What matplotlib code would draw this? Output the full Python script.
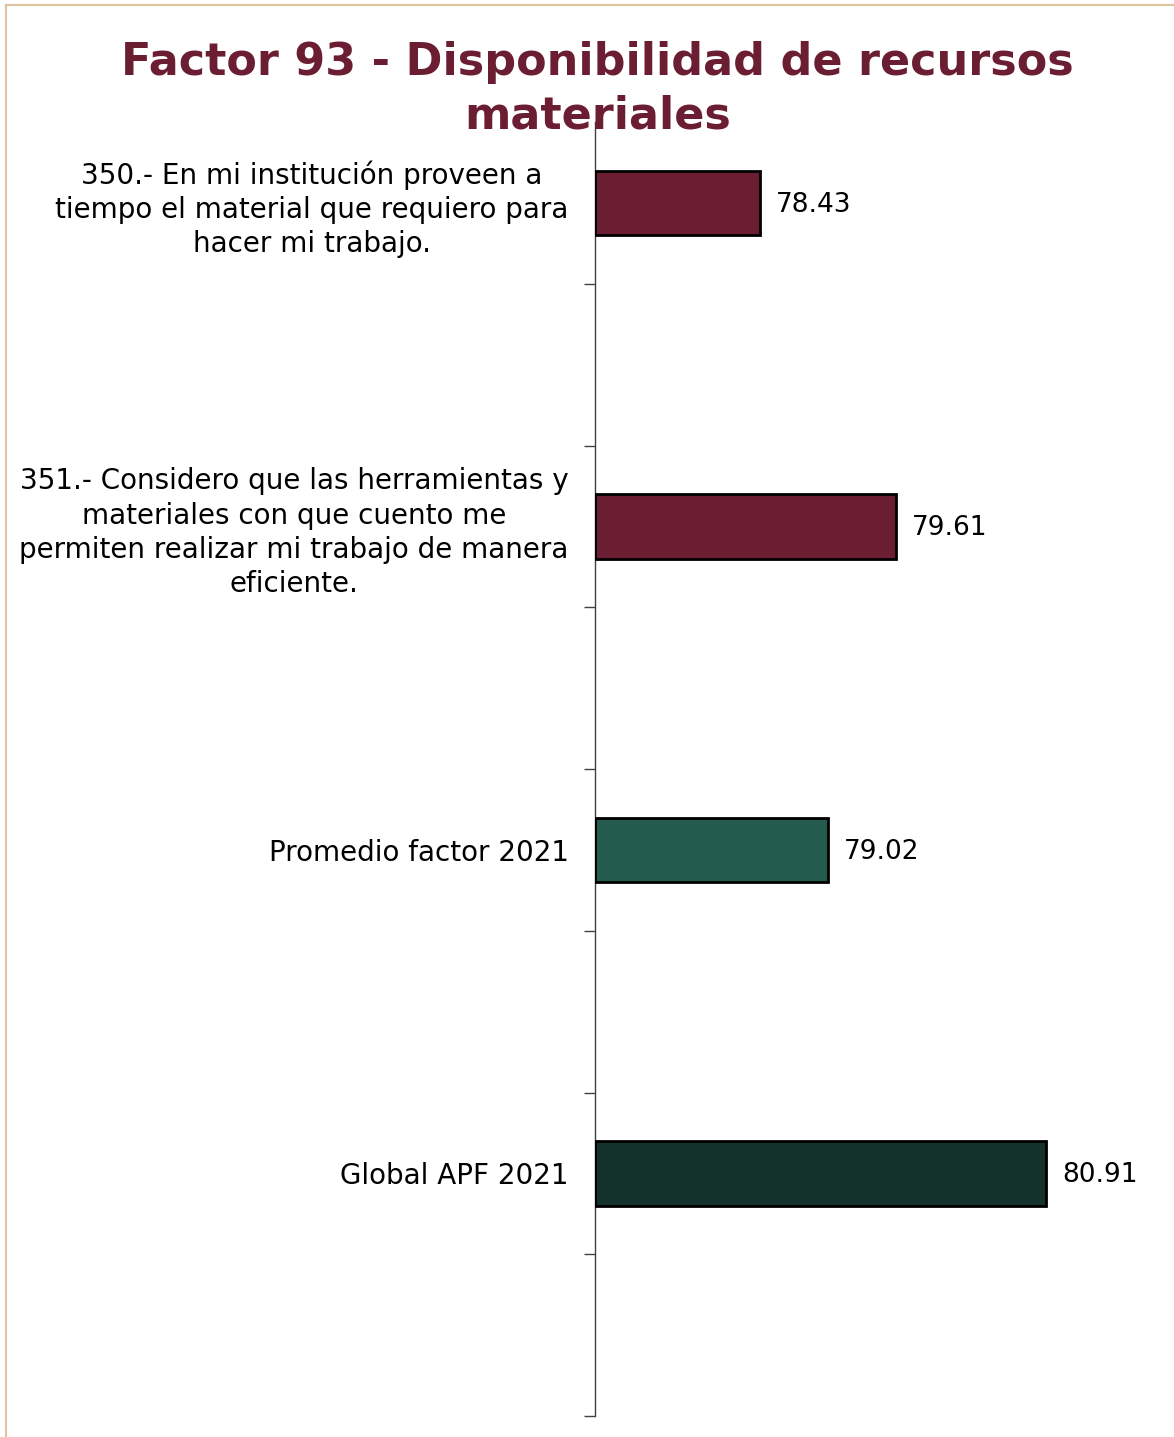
import numpy as np
import matplotlib.pyplot as plt
from matplotlib.lines import Line2D
from matplotlib import rcParams

rcParams['font.family'] = ['DejaVu Sans']

# data
categories = [
    '350.- En mi institución proveen a\ntiempo el material que requiero para\nhacer mi trabajo.',
    '351.- Considero que las herramientas y\nmateriales con que cuento me\npermiten realizar mi trabajo de manera\neficiente.',
    'Promedio factor 2021',
    'Global APF 2021',
]
values = [78.43, 79.61, 79.02, 80.91]
bar_colors = ['#6B1E32', '#6B1E32', '#235B4E', '#13322B']
title = 'Factor 93 - Disponibilidad de recursos\nmateriales'

x_min, x_max = 77, 82

fig = plt.figure(figsize=(11.74, 14.37), dpi=100)
ax = fig.add_axes([0.5068, 0.0146, 0.4909, 0.9003])

# one empty slot between bars
ypos = np.arange(len(values)) * 2
ax.barh(ypos, [v - x_min for v in values], left=x_min, height=0.40,
        color=bar_colors, edgecolor='black', linewidth=2, zorder=3)

for y, v in zip(ypos, values):
    ax.text(v + 0.14, y + 0.01, f'{v:.2f}', va='center', ha='left', fontsize=19, color='black')

ax.set_xlim(x_min, x_max)
ax.set_ylim(7.5, -0.5)

ax.set_yticks(ypos)
ax.set_yticklabels(categories, fontsize=20, multialignment='center', linespacing=1.29)
ax.tick_params(axis='y', which='major', length=0, pad=19)
ax.set_yticks(np.arange(0.5, 8, 1), minor=True)
ax.tick_params(axis='y', which='minor', length=8, width=1, color='#404040', direction='out')
ax.set_xticks([])

for s in ['top', 'right', 'bottom']:
    ax.spines[s].set_visible(False)
ax.spines['left'].set_color('#404040')
ax.spines['left'].set_linewidth(1)

fig.text(0.509, 0.938, title, ha='center', va='center', fontsize=32, fontweight='bold',
         color='#6B1E32', linespacing=1.32, zorder=5)

# thin frame lines on the left and top edges
fig.add_artist(Line2D([5.5 / 1174, 5.5 / 1174], [0, 1 - 4.5 / 1437],
                      transform=fig.transFigure, color='#DCC59E', linewidth=1.5))
fig.add_artist(Line2D([5.5 / 1174, 1], [1 - 4.5 / 1437, 1 - 4.5 / 1437],
                      transform=fig.transFigure, color='#DCC59E', linewidth=1.5))

fig.savefig('out.png', dpi=100)
